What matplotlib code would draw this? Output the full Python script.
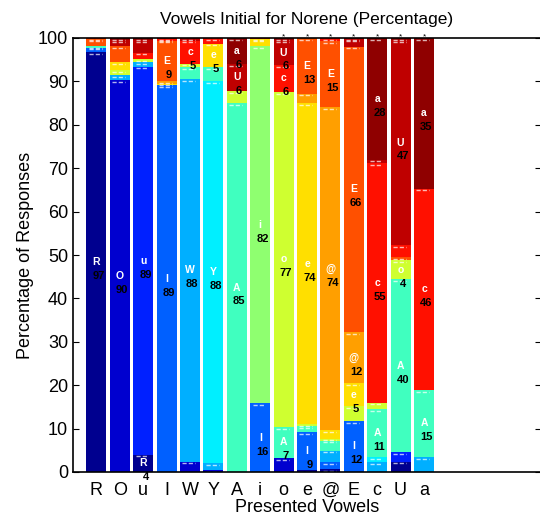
import numpy as np
import matplotlib.pyplot as plt

# presented vowels (bars) and response categories (stack order)
vowels = ["R", "O", "u", "I", "W", "Y", "A", "i", "o", "e", "@", "E", "c", "U", "a"]

# percentage of each response, one list per presented vowel (same order as vowels)
bar_R = [96.7, 0, 0, 1.1, 0, 0, 0.3, 0, 0, 0, 0, 1.7, 0.2, 0, 0]
bar_O = [0, 90.3, 0, 0, 1.2, 0, 0, 0, 1.1, 1.9, 0, 3.6, 0, 1.4, 0.5]
bar_u = [4.0, 0, 89.4, 0, 1.0, 0, 0, 0, 0.7, 0, 0, 0, 1.5, 2.9, 0.5]
bar_I = [0, 0, 0, 89.1, 0, 0, 0, 0, 0, 0.4, 0.6, 9.3, 0.3, 0.3, 0]
bar_W = [0, 2.4, 0, 0, 88.2, 0, 2.7, 0, 0.8, 0, 0, 0, 5.3, 0.6, 0]
bar_Y = [0, 0.4, 0, 0, 1.6, 88.0, 3.3, 0, 0, 5.4, 0, 0, 1.3, 0, 0]
bar_A = [0, 0, 0, 0, 0, 0, 85.0, 0, 2.8, 0, 0, 0, 0, 6.2, 6.0]
bar_i = [0, 0, 0, 15.8, 0, 0, 0, 82.4, 0, 1.5, 0, 0, 0.3, 0, 0]
bar_o = [0, 3.2, 0, 0, 0, 0, 7.2, 0, 77.2, 0, 0, 0, 6.2, 5.7, 0.5]
bar_e = [0.5, 0, 0, 8.7, 0, 0, 1.3, 0, 0.5, 74.0, 2.2, 12.8, 0, 0, 0]
bar_at = [0.7, 0, 0, 1.5, 2.7, 0, 2.3, 0, 0.5, 2.0, 74.3, 15.3, 0.7, 0, 0]
bar_E = [0, 0, 0, 11.8, 0, 0, 0, 0, 3.3, 5.4, 11.7, 65.8, 0, 1.8, 0.2]
bar_c = [0, 0, 0, 0, 2.3, 1.2, 11.0, 0, 1.5, 0, 0, 0, 55.2, 0.8, 28.0]
bar_U = [2.4, 0, 2.1, 0, 0, 0, 39.9, 0, 4.4, 0, 0, 0.7, 2.8, 47.2, 0.5]
bar_a = [0, 0, 0, 0, 3.5, 0, 15.4, 0, 0, 0, 0, 0, 46.4, 0, 34.7]

# bars marked with an asterisk
starred = ["o", "e", "@", "E", "c", "U", "a"]

# MATLAB jet(64) entries picked for 15 categories
colors = ["#00008f", "#0000cf", "#0020ff", "#0060ff", "#00afff", "#00efff",
          "#40ffbf", "#8fff70", "#cfff30", "#ffdf00", "#ff9f00", "#ff5000",
          "#ff1000", "#bf0000", "#8f0000"]

data = np.array([bar_R, bar_O, bar_u, bar_I, bar_W, bar_Y, bar_A, bar_i,
                 bar_o, bar_e, bar_at, bar_E, bar_c, bar_U, bar_a])
x = np.arange(1, len(vowels) + 1)
w = 0.85

plt.rcParams['font.family'] = ['Liberation Sans', 'DejaVu Sans']
fig = plt.figure(figsize=(5.4, 5.22), dpi=100)
ax = fig.add_axes([73 / 540, 50 / 522, 468 / 540, 434 / 522])

bottom = np.zeros(len(vowels))
for k in range(len(vowels)):
    h = data[:, k]
    m = h > 0
    ax.bar(x[m], h[m], bottom=bottom[m], width=w, color=colors[k], linewidth=0)
    # short white dashes along the top of each segment
    ax.hlines(bottom[m] + h[m] - 0.4, x[m] - w / 2 + 0.1, x[m] + w / 2 - 0.2,
              colors=(1, 1, 1, 0.7), linewidth=1.0, linestyles=(0, (3, 1.5)))
    # label big segments: response letter + rounded percentage
    for j in np.where(h >= 4)[0]:
        mid = bottom[j] + h[j] / 2
        ax.text(x[j], mid, vowels[k], color="white", fontsize=7.5,
                fontweight="bold", ha="center", va="center")
        ax.annotate(str(int(round(h[j]))), (x[j] + 0.1, mid), xytext=(0, -10),
                    textcoords="offset points", fontsize=8, fontweight="bold",
                    ha="center", va="center", color="black",
                    annotation_clip=False)
    bottom += h

for j, v in enumerate(vowels):
    if v in starred:
        ax.text(x[j], 100.3, "*", ha="center", va="center", fontsize=6,
                clip_on=False, zorder=5)

ax.set_xlim(0, 20)
ax.set_ylim(0, 100)
ax.set_yticks(np.arange(0, 101, 10))
ax.set_xticks(x)
ax.set_xticklabels(vowels)
ax.tick_params(axis="both", direction="in", labelsize=13, length=4,
               right=True, top=False)
ax.tick_params(axis="x", length=0, pad=7)
ax.set_title("Vowels Initial for Norene (Percentage)", fontsize=12.5, pad=10)
ax.set_xlabel("Presented Vowels", fontsize=13, labelpad=0)
ax.set_ylabel("Percentage of Responses", fontsize=13, labelpad=3)
for s in ax.spines.values():
    s.set_linewidth(1.2)

plt.savefig("out.png", dpi=100)
